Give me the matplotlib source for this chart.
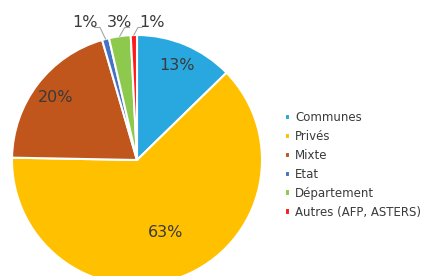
import matplotlib
matplotlib.use("Agg")
import matplotlib.pyplot as plt
import numpy as np

categories = ["Communes", "Privés", "Mixte", "Etat", "Département", "Autres (AFP, ASTERS)"]
shares = [12.7, 62.6, 20.2, 0.9, 2.8, 0.8]
colors = ["#29A8E0", "#FFC000", "#C0561B", "#4472C4", "#8CC94C", "#FF1A1A"]
outside = [False, False, False, True, True, True]
label_r = [0.82, 0.62, 0.82, 0, 0, 0]

plt.rcParams["font.family"] = ["DejaVu Sans"]
txt_color = "#3A3A3A"

fig = plt.figure(figsize=(4.22, 2.76), dpi=100)
# pie axes: centre ~ (137,160) px, radius ~125 px
ax = fig.add_axes([12 / 422, (276 - 285) / 276, 250 / 422, 250 / 276])

wedges, _ = ax.pie(shares, colors=colors, startangle=90, counterclock=False,
                   wedgeprops=dict(edgecolor="white", linewidth=1.5))
ax.set_xlim(-1, 1)
ax.set_ylim(-1, 1)
ax.set_aspect("equal")
ax.axis("off")

total = sum(shares)
label_x = {3: -0.42, 4: -0.14, 5: 0.12}
for i, w in enumerate(wedges):
    ang = np.deg2rad((w.theta1 + w.theta2) / 2)
    lab = "%d%%" % round(shares[i] / total * 100)
    if not outside[i]:
        r = label_r[i]
        ax.text(r * np.cos(ang), r * np.sin(ang), lab, ha="center", va="center",
                fontsize=11.5, color=txt_color)
    else:
        x0, y0 = np.cos(ang), np.sin(ang)
        tx, ty = label_x[i], 1.10
        ax.text(tx, ty, lab, ha="center", va="center", fontsize=11.5, color=txt_color)
        # leader line
        if tx < x0:
            ex = tx + 0.08
        else:
            ex = tx - 0.08
        ax.plot([x0, x0 + (ex - x0) * 0.5, ex], [y0, 1.06, 1.06],
                color="#A6A6A6", lw=0.8, clip_on=False)

ax.legend(wedges, categories, loc="center left", bbox_to_anchor=(1.05, 0.48),
          frameon=False, fontsize=8.5, handlelength=0.45, handleheight=0.45,
          handletextpad=0.4, labelspacing=0.5, labelcolor=txt_color)

fig.savefig("out.png", dpi=100)
